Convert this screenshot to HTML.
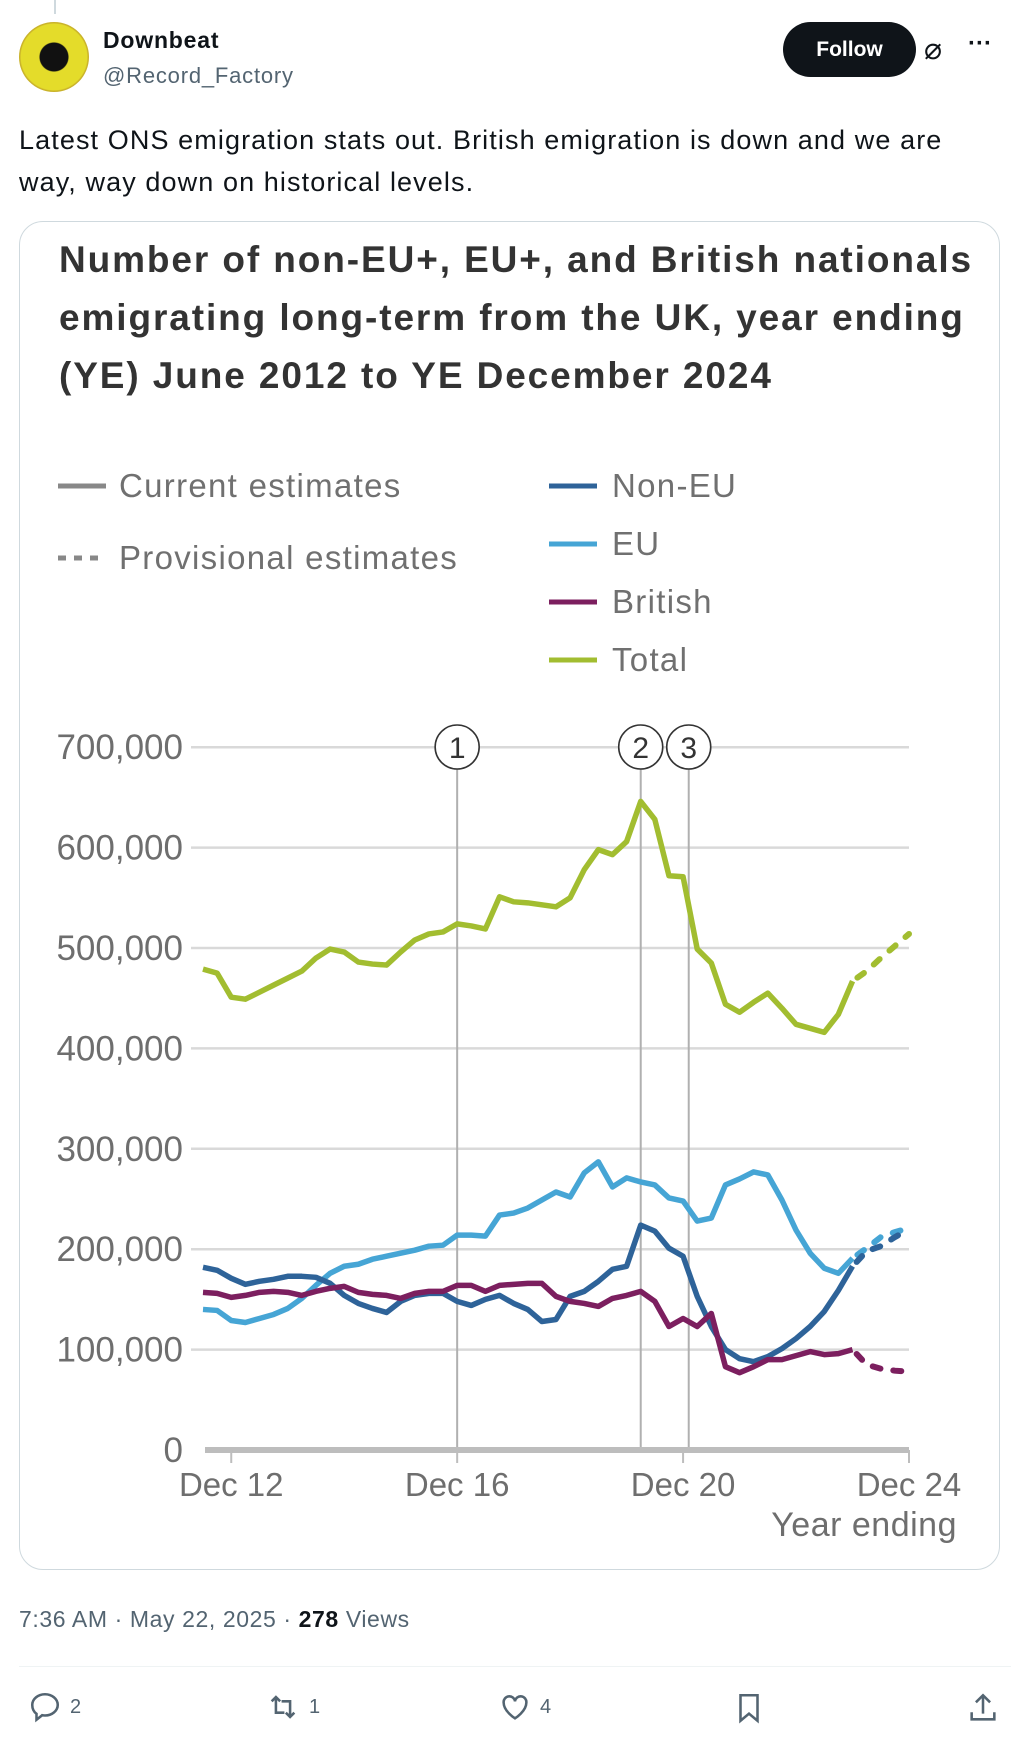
<!DOCTYPE html>
<html><head><meta charset="utf-8">
<style>
html,body{margin:0;padding:0;background:#fff;}
body{width:1011px;height:1739px;position:relative;overflow:hidden;font-family:"Liberation Sans",sans-serif;}
.abs{position:absolute;}
</style></head>
<body>
<div class="abs" style="left:54px;top:0;width:2px;height:14px;background:#cfd9de;"></div>
<div class="abs" style="left:19px;top:22px;width:70px;height:70px;border-radius:50%;background:radial-gradient(circle at 50% 50%,#111 0 14px,#e4dc2a 15px 33px,#c9b22a 34px);"></div>
<div class="abs" style="left:103px;top:27px;font-size:23px;letter-spacing:0.8px;font-weight:bold;color:#0f1419;">Downbeat</div>
<div class="abs" style="left:103px;top:63px;font-size:22px;letter-spacing:0.8px;color:#536471;">@Record_Factory</div>
<div class="abs" style="left:783px;top:22px;width:133px;height:55px;border-radius:28px;background:#0f1419;color:#fff;font-size:21px;font-weight:bold;display:flex;align-items:center;justify-content:center;">Follow</div>
<div class="abs" style="left:924px;top:32px;font-size:30px;color:#0f1419;">⌀</div>
<div class="abs" style="left:968px;top:30px;font-size:24px;color:#0f1419;font-weight:bold;">···</div>
<div class="abs" style="left:19px;top:119px;width:990px;font-size:27px;letter-spacing:1.1px;line-height:42px;color:#0f1419;white-space:nowrap;">Latest ONS emigration stats out. British emigration is down and we are<br>way, way down on historical levels.</div>

<div class="abs" style="left:19px;top:221px;width:979px;height:1347px;border:1px solid #cfd9de;border-radius:24px;"></div>
<div class="abs" style="left:59px;top:231px;width:950px;font-size:37px;letter-spacing:1.9px;line-height:58px;font-weight:bold;color:#333;white-space:nowrap;">Number of non-EU+, EU+, and British nationals<br>emigrating long-term from the UK, year ending<br>(YE) June 2012 to YE December 2024</div>

<svg class="abs" style="left:0;top:0" width="1011" height="1739">
<g id="legend" font-family="Liberation Sans, sans-serif" font-size="33" letter-spacing="1.3" fill="#707070"></g>
<g id="grid"></g>
<g id="ann"></g>
<g id="series"></g>
<g id="axis" font-family="Liberation Sans, sans-serif" fill="#6e6e6e"></g>
</svg>

<div class="abs" style="left:19px;top:1606px;font-size:23px;letter-spacing:0.6px;color:#536471;">7:36 AM · May 22, 2025 · <b style="color:#0f1419">278</b> Views</div>
<div class="abs" style="left:19px;top:1666px;width:992px;height:1px;background:#eff3f4;"></div>
<div class="abs" style="left:28px;top:1690px;font-size:20px;color:#536471;display:flex;align-items:center;gap:8px;"><svg width="34" height="34" viewBox="0 0 24 24"><path d="M12 3c5 0 9 3.4 9 7.5S17 18 12 18c-.7 0-1.4 0-2-.2L6 21v-4.2C4.2 15.5 3 13.1 3 10.5 3 6.4 7 3 12 3z" fill="none" stroke="#536471" stroke-width="1.8"/></svg>2</div>
<div class="abs" style="left:265px;top:1690px;font-size:20px;color:#536471;display:flex;align-items:center;gap:8px;"><svg width="36" height="34" viewBox="0 0 24 24"><path d="M4 8l3-3 3 3M7 5v11h6M20 16l-3 3-3-3M17 19V8h-6" fill="none" stroke="#536471" stroke-width="1.8"/></svg>1</div>
<div class="abs" style="left:498px;top:1690px;font-size:20px;color:#536471;display:flex;align-items:center;gap:8px;"><svg width="34" height="34" viewBox="0 0 24 24"><path d="M12 20s-8-5-8-11a4 4 0 0 1 8-1 4 4 0 0 1 8 1c0 6-8 11-8 11z" fill="none" stroke="#536471" stroke-width="1.8"/></svg>4</div>
<div class="abs" style="left:732px;top:1690px;"><svg width="34" height="36" viewBox="0 0 24 24"><path d="M6 3h12v18l-6-5-6 5z" fill="none" stroke="#536471" stroke-width="1.8"/></svg></div>
<div class="abs" style="left:966px;top:1690px;"><svg width="34" height="36" viewBox="0 0 24 24"><path d="M12 3v13M7 8l5-5 5 5M4 15v5h16v-5" fill="none" stroke="#536471" stroke-width="1.8"/></svg></div>

<script>
const NS='http://www.w3.org/2000/svg';
const categories=['Jun 12','Sep 12','Dec 12','Mar 13','Jun 13','Sep 13','Dec 13','Mar 14','Jun 14','Sep 14','Dec 14','Mar 15','Jun 15','Sep 15','Dec 15','Mar 16','Jun 16','Sep 16','Dec 16','Mar 17','Jun 17','Sep 17','Dec 17','Mar 18','Jun 18','Sep 18','Dec 18','Mar 19','Jun 19','Sep 19','Dec 19','Mar 20','Jun 20','Sep 20','Dec 20','Mar 21','Jun 21','Sep 21','Dec 21','Mar 22','Jun 22','Sep 22','Dec 22','Mar 23','Jun 23','Sep 23','Dec 23','Mar 24','Jun 24','Sep 24','Dec 24'];
const totalVals=[479,475,451,449,456,463,470,477,490,499,496,486,484,483,496,508,514,516,524,522,519,551,546,545,543,541,550,578,598,593,606,646,628,572,571,499,485,444,436,446,455,440,424,420,416,434,467,477,490,502,514];
const euVals=[140,139,129,127,131,135,141,151,164,176,183,185,190,193,196,199,203,204,214,214,213,234,236,241,249,257,252,276,287,262,271,267,264,251,248,228,231,264,270,277,274,249,219,196,181,176,191,201,212,217,221];
const nonEuVals=[182,179,171,165,168,170,173,173,172,166,154,146,141,137,148,154,156,156,148,144,150,154,146,140,128,130,153,158,168,180,183,224,218,201,193,153,123,100,91,88,93,101,111,123,138,159,183,198,203,212,220];
const britishVals=[157,156,152,154,157,158,157,154,158,161,163,157,155,154,151,156,158,158,164,164,158,164,165,166,166,153,148,146,143,151,154,158,148,123,131,123,136,83,77,83,90,90,94,98,95,96,100,85,81,79,78];
const yTicks=[0,100000,200000,300000,400000,500000,600000,700000];
const yTickLabels=['0','100,000','200,000','300,000','400,000','500,000','600,000','700,000'];
const xTickIdx=[2,18,34,50];
const xTickLabels=['Dec 12','Dec 16','Dec 20','Dec 24'];
const annIdx=[18,31,34.4];
const annLabels=['1','2','3'];
const provisionalStart=46;

function xS(i){return 203+i*14.12;}
function yS(v){return 1450-v*0.001004;}
function mk(t,a,p){const e=document.createElementNS(NS,t);for(const k in a)e.setAttribute(k,a[k]);p.appendChild(e);return e;}

const grid=document.getElementById('grid');
yTicks.forEach((v,k)=>{
  if(v>0){const l=mk('line',{x1:191,x2:909,y1:yS(v),y2:yS(v),stroke:'#d9d9d9','stroke-width':2.5},grid);
  
  }
});
const axis=document.getElementById('axis');
yTicks.forEach((v,k)=>{
  const t=mk('text',{x:183,y:yS(v)+12,'text-anchor':'end','font-size':35},axis);t.textContent=yTickLabels[k];
  
  
});
const base=mk('line',{x1:205,x2:909,y1:yS(0),y2:yS(0),stroke:'#bdbdbd','stroke-width':6},axis);


xTickIdx.forEach((i,k)=>{
  const tk=mk('line',{x1:xS(i),x2:xS(i),y1:yS(0),y2:yS(0)+13,stroke:'#bdbdbd','stroke-width':2},axis);
  
  
  const t=mk('text',{x:xS(i),y:1496,'text-anchor':'middle','font-size':33},axis);t.textContent=xTickLabels[k];
  
  
});
const xt=mk('text',{x:957,y:1536,'text-anchor':'end','font-size':34,'letter-spacing':0.5},axis);xt.textContent='Year ending';



const ann=document.getElementById('ann');
annIdx.forEach((i,k)=>{
  const l=mk('line',{x1:xS(i),x2:xS(i),y1:769,y2:yS(0),stroke:'#b0b0b0','stroke-width':2},ann);
  
  
  const c=mk('circle',{cx:xS(i),cy:747,r:22,fill:'#fff',stroke:'#333','stroke-width':1.6},ann);
  
  
  const t=mk('text',{x:xS(i),y:758,'text-anchor':'middle','font-size':30,fill:'#333','font-family':'Liberation Sans, sans-serif'},ann);t.textContent=annLabels[k];
  
  
});

const series=document.getElementById('series');
const defs=[['total',totalVals,'#a2bd30'],['eu',euVals,'#46a5d5'],['non-eu',nonEuVals,'#2e6399'],['british',britishVals,'#7c1f5f']];
defs.forEach(([n,vals,col])=>{
  let d='';for(let i=0;i<=provisionalStart;i++)d+=(i?'L':'M')+xS(i)+','+yS(vals[i]*1000);
  const p=mk('path',{d:d,fill:'none',stroke:col,'stroke-width':5.5,'stroke-linejoin':'round'},series);
  
  
  let d2='';for(let i=provisionalStart;i<vals.length;i++)d2+=(i>provisionalStart?'L':'M')+xS(i)+','+yS(vals[i]*1000);
  const q=mk('path',{d:d2,fill:'none',stroke:col,'stroke-width':6,'stroke-dasharray':'8 13','stroke-dashoffset':-6,'stroke-linecap':'round'},series);
  
  
});

const lg=document.getElementById('legend');
const legItems=[[58,486,'Current estimates','#888',false],[58,558,'Provisional estimates','#888',true],[549,486,'Non-EU','#2e6399',false],[549,544,'EU','#46a5d5',false],[549,602,'British','#7c1f5f',false],[549,660,'Total','#a2bd30',false]];
legItems.forEach(([x,y,lab,col,dash])=>{
  const l=mk('line',{x1:x,x2:x+48,y1:y,y2:y,stroke:col,'stroke-width':5},lg);
  if(dash)l.setAttribute('stroke-dasharray','8 8');
  
  
  const t=mk('text',{x:x+(x<100?61:63),y:y+11},lg);t.textContent=lab;
  
  
});
</script>
</body></html>
